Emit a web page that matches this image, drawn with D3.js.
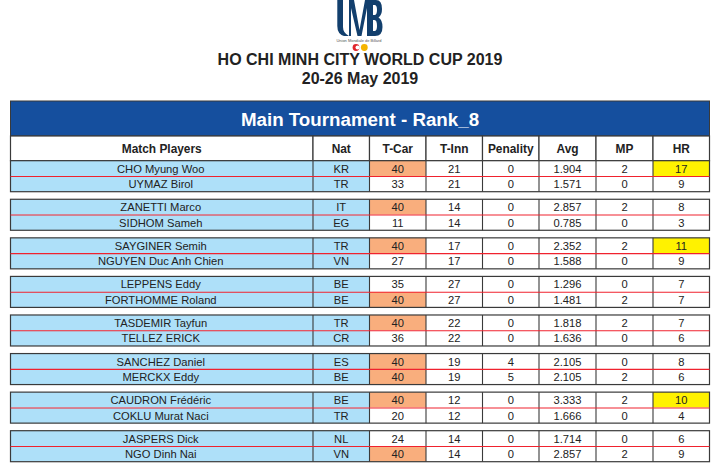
<!DOCTYPE html>
<html><head><meta charset="utf-8">
<script src="https://cdn.jsdelivr.net/npm/d3@7"></script>
<style>html,body{margin:0;padding:0;background:#fff}svg{display:block}text{font-family:"Liberation Sans",Arial,sans-serif}</style>
</head><body><svg id="c" width="712" height="470"></svg>
<script>
const titleLines = ["HO CHI MINH CITY WORLD CUP 2019", "20-26 May 2019"];
const bandTitle = "Main Tournament - Rank_8";
const columns = ["Match Players","Nat","T-Car","T-Inn","Penality","Avg","MP","HR"];
const players = ["CHO Myung Woo","UYMAZ Birol","ZANETTI Marco","SIDHOM Sameh","SAYGINER Semih","NGUYEN Duc Anh Chien","LEPPENS Eddy","FORTHOMME Roland","TASDEMIR Tayfun","TELLEZ ERICK","SANCHEZ Daniel","MERCKX Eddy","CAUDRON Frédéric","COKLU Murat Naci","JASPERS Dick","NGO Dinh Nai"];
const nats = ["KR","TR","IT","EG","TR","VN","BE","BE","TR","CR","ES","BE","BE","TR","NL","VN"];
const tcar = [40,33,40,11,40,27,35,40,40,36,40,40,40,20,24,40];
const tinn = [21,21,14,14,17,17,27,27,22,22,19,19,12,12,14,14];
const penalty = [0,0,0,0,0,0,0,0,0,0,4,5,0,0,0,0];
const avg = ["1.904","1.571","2.857","0.785","2.352","1.588","1.296","1.481","1.818","1.636","2.105","2.105","3.333","1.666","1.714","2.857"];
const mp = [2,0,2,0,2,0,0,2,2,0,0,2,2,0,0,2];
const hr = [17,9,8,3,11,9,7,7,7,6,8,6,10,4,6,9];
const hrHighlight = [17,11,10];

const svg = d3.select("#c");
const ink = "#222", rule = "#3a3a3a", blue = "#154f9e", sky = "#aee0f9", orange = "#f9ae7d", yellow = "#fff200", red = "#f0222e";
const edges = [10.5,313,369.5,426,482.5,539,596,653,709.5];
const colX = d3.scaleOrdinal().domain(columns).range(edges.slice(0,-1));
const colW = d3.scaleOrdinal().domain(columns).range(edges.slice(1).map((e,i)=>e-edges[i]));
const groupY = d3.scaleLinear().domain([0,7]).range([160.7,430.7]);
const rowH = 15.5;
const rows = players.map((p,i)=>({i,group:Math.floor(i/2),second:i%2,
  cells:[p,nats[i],tcar[i],tinn[i],penalty[i],avg[i],mp[i],hr[i]]}));
const rowY = d=>groupY(d.group)+d.second*rowH;

// logo
const logo = svg.append("g");
logo.append("path").attr("fill","#123f6d").attr("d",
  "M337.3 0H343V27Q343 33 349 36H344Q337.3 34 337.3 26Z" +
  "M349 0H354L359.5 30L365 0H373V36H367V8L361.5 36H357.5L351 8V36H349Z" +
  "M373 0H376Q382 0 382 9Q382 15 378.5 17.5Q382.5 20 382.5 27Q382.5 36 375 36H373V31H374.5Q377 31 377 26Q377 20 374.5 20H373V15H374.5Q377 15 377 10Q377 5 374.5 5H373Z");
logo.append("text").attr("x",359).attr("y",42).attr("text-anchor","middle").attr("font-size",4.2).attr("fill","#555")
  .attr("textLength",45).attr("lengthAdjust","spacingAndGlyphs").text("Union Mondiale de Billard");
svg.append("circle").attr("cx",356).attr("cy",47.5).attr("r",3.4).attr("fill","#e0252b");
svg.append("circle").attr("cx",357.6).attr("cy",47.5).attr("r",2.1).attr("fill","#fff");
svg.append("circle").attr("cx",364.3).attr("cy",47.5).attr("r",3.4).attr("fill","#f5b400");

svg.selectAll("text.t").data(titleLines).join("text").attr("class","t")
  .attr("x",360).attr("y",(d,i)=>[64.5,84][i]).attr("text-anchor","middle").attr("font-size",16).attr("font-weight",700).attr("fill",ink).text(d=>d);

// band
svg.append("rect").attr("x",edges[0]).attr("y",101).attr("width",edges[8]-edges[0]).attr("height",35).attr("fill",blue).attr("stroke",rule).attr("stroke-width",1);
svg.append("text").attr("x",360).attr("y",125.5).attr("text-anchor","middle").attr("font-size",18.75).attr("font-weight",700).attr("fill","#fff").text(bandTitle);

// header
const head = svg.append("g");
head.selectAll("rect").data(columns).join("rect").attr("x",d=>colX(d)).attr("y",136).attr("width",d=>colW(d)).attr("height",24.7).attr("fill","#fff").attr("stroke",rule).attr("stroke-width",1.2);
head.selectAll("text").data(columns).join("text").attr("x",d=>colX(d)+colW(d)/2).attr("y",152.5).attr("text-anchor","middle").attr("font-size",11.9).attr("font-weight",700).attr("fill",ink).text(d=>d);

// rows
const fillFor = (d,c)=>{
  if(c==="Match Players"||c==="Nat") return sky;
  if(c==="T-Car"&&d.cells[2]===40) return orange;
  if(c==="HR"&&!d.second&&d.cells[6]===2&&hrHighlight.includes(d.cells[7])) return yellow;
  return "#fff";
};
const r = svg.selectAll("g.r").data(rows).join("g").attr("class","r");
r.selectAll("rect").data(d=>columns.map((c,k)=>({d,c,k}))).join("rect")
  .attr("x",e=>colX(e.c)).attr("y",e=>rowY(e.d)).attr("width",e=>colW(e.c)).attr("height",rowH).attr("fill",e=>fillFor(e.d,e.c));
r.selectAll("text").data(d=>columns.map((c,k)=>({d,c,k}))).join("text")
  .attr("x",e=>colX(e.c)+colW(e.c)/2-(e.k===0?1:0)).attr("y",e=>rowY(e.d)+12).attr("text-anchor","middle").attr("font-size",11.2).attr("fill",ink).text(e=>e.d.cells[e.k]);

// group frames
const groups = d3.range(8);
svg.selectAll("g.f").data(groups).join("g").attr("class","f").each(function(g){
  const s=d3.select(this), y=groupY(g);
  s.append("rect").attr("x",edges[0]).attr("y",y).attr("width",edges[8]-edges[0]).attr("height",2*rowH).attr("fill","none").attr("stroke",rule).attr("stroke-width",1.2);
  s.selectAll("line.v").data(edges.slice(1,-1)).join("line").attr("class","v").attr("x1",e=>e).attr("x2",e=>e).attr("y1",y).attr("y2",y+2*rowH).attr("stroke",rule).attr("stroke-width",1.1);
  s.append("line").attr("x1",edges[0]).attr("x2",edges[8]).attr("y1",y+rowH+.3).attr("y2",y+rowH+.3).attr("stroke",red).attr("stroke-width",1.1);
});
</script></body></html>
